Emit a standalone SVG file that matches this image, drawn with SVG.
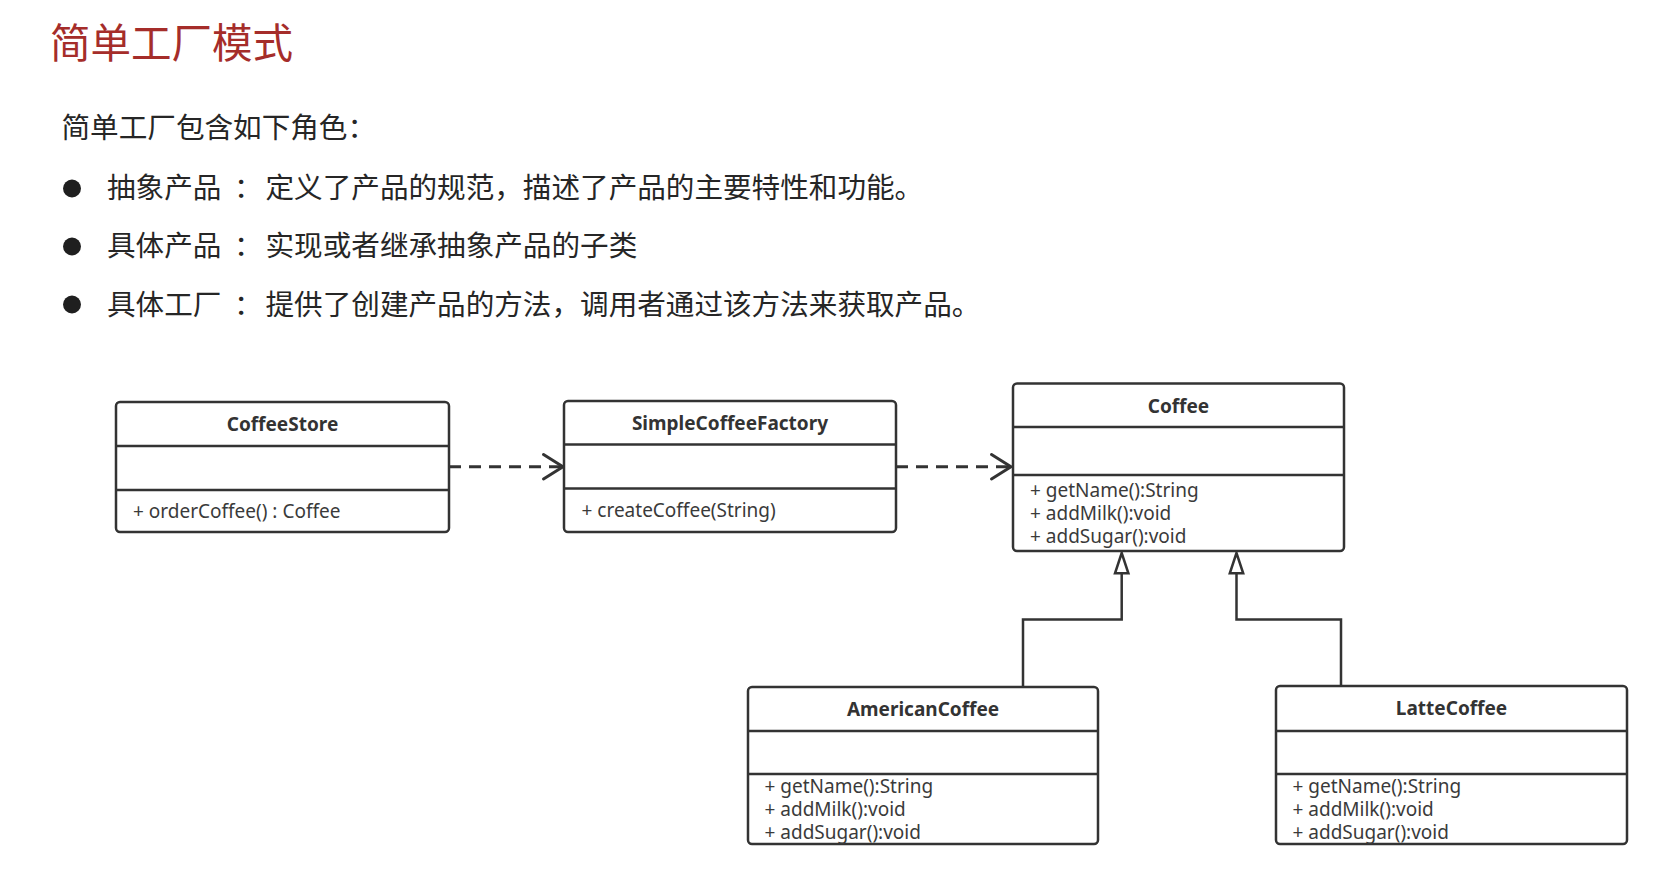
<svg xmlns="http://www.w3.org/2000/svg" width="1680" height="869" viewBox="0 0 1680 869">
  <style>
    .title { font-family: "Noto Sans CJK SC", "Noto Sans", sans-serif; font-size: 40.5px; fill: #A52D2A; }
    .cn { font-family: "Noto Sans CJK SC", "Noto Sans", sans-serif; font-size: 28.6px; fill: #262626; }
    .dot { fill: #1f1f1f; }
    .box { fill: #ffffff; stroke: #333333; stroke-width: 2.5; }
    .div { stroke: #333333; stroke-width: 2.5; }
    .cls { font-family: "Noto Sans", "Liberation Sans", sans-serif; font-size: 19px; font-weight: bold; fill: #333333; text-anchor: middle; }
    .mem { font-family: "Noto Sans", "Liberation Sans", sans-serif; font-size: 19px; fill: #3a3a3a; }
    .dep { fill: none; stroke: #333333; stroke-width: 3; stroke-dasharray: 12 8; }
    .gen { fill: none; stroke: #333333; stroke-width: 2.5; }
    .head { fill: none; stroke: #333333; stroke-width: 3; stroke-linecap: round; stroke-linejoin: round; }
    .tri { fill: #ffffff; stroke: #333333; stroke-width: 2.5; stroke-linejoin: miter; }
  </style>

  <g id="heading">
    <text class="title" x="50" y="57.5">简单工厂模式</text>
    <text class="cn" x="61.5" y="138">简单工厂包含如下角色：</text>
    <circle class="dot" cx="72" cy="188.5" r="9"/>
    <text class="cn" y="198"><tspan x="107">抽象产品</tspan><tspan x="234">：</tspan><tspan x="265.5">定义了产品的规范，描述了产品的主要特性和功能。</tspan></text>
    <circle class="dot" cx="72" cy="246.5" r="9"/>
    <text class="cn" y="256"><tspan x="107">具体产品</tspan><tspan x="234">：</tspan><tspan x="265.5">实现或者继承抽象产品的子类</tspan></text>
    <circle class="dot" cx="72" cy="304.5" r="9"/>
    <text class="cn" y="314.5"><tspan x="107">具体工厂</tspan><tspan x="234">：</tspan><tspan x="265.5">提供了创建产品的方法，调用者通过该方法来获取产品。</tspan></text>
  </g>

  <g id="connectors">
    <line class="dep" x1="449" y1="466.7" x2="561" y2="466.7"/>
    <polyline class="head" points="543.5,454.5 563,466.7 543.5,479"/>
    <line class="dep" x1="896" y1="466.7" x2="1009" y2="466.7"/>
    <polyline class="head" points="991.5,454.5 1011,466.7 991.5,479"/>
    <polyline class="gen" points="1023,687 1023,619.5 1121.7,619.5 1121.7,573"/>
    <polygon class="tri" points="1121.7,553 1115,573.3 1128.4,573.3"/>
    <polyline class="gen" points="1341,686 1341,619.5 1236.5,619.5 1236.5,573"/>
    <polygon class="tri" points="1236.5,553 1229.8,573.3 1243.2,573.3"/>
  </g>

  <g id="CoffeeStore">
    <rect class="box" x="116" y="402" width="333" height="130" rx="4"/>
    <line class="div" x1="116" y1="446" x2="449" y2="446"/>
    <line class="div" x1="116" y1="490" x2="449" y2="490"/>
    <text class="cls" x="282.5" y="431">CoffeeStore</text>
    <text class="mem" x="133" y="518">+ orderCoffee() : Coffee</text>
  </g>

  <g id="SimpleCoffeeFactory">
    <rect class="box" x="564" y="401" width="332" height="131" rx="4"/>
    <line class="div" x1="564" y1="444.5" x2="896" y2="444.5"/>
    <line class="div" x1="564" y1="488.5" x2="896" y2="488.5"/>
    <text class="cls" x="730" y="430">SimpleCoffeeFactory</text>
    <text class="mem" x="581.5" y="517">+ createCoffee(String)</text>
  </g>

  <g id="Coffee">
    <rect class="box" x="1013" y="383.5" width="331" height="167.5" rx="4"/>
    <line class="div" x1="1013" y1="427" x2="1344" y2="427"/>
    <line class="div" x1="1013" y1="475" x2="1344" y2="475"/>
    <text class="cls" x="1178.5" y="413">Coffee</text>
    <text class="mem" x="1030" y="496.5">+ getName():String</text>
    <text class="mem" x="1030" y="519.5">+ addMilk():void</text>
    <text class="mem" x="1030" y="542.5">+ addSugar():void</text>
  </g>

  <g id="AmericanCoffee">
    <rect class="box" x="748" y="687" width="350" height="157" rx="4"/>
    <line class="div" x1="748" y1="731" x2="1098" y2="731"/>
    <line class="div" x1="748" y1="774" x2="1098" y2="774"/>
    <text class="cls" x="923" y="715.5">AmericanCoffee</text>
    <text class="mem" x="764.5" y="792.5">+ getName():String</text>
    <text class="mem" x="764.5" y="815.5">+ addMilk():void</text>
    <text class="mem" x="764.5" y="838.5">+ addSugar():void</text>
  </g>

  <g id="LatteCoffee">
    <rect class="box" x="1276" y="686" width="351" height="158" rx="4"/>
    <line class="div" x1="1276" y1="731" x2="1627" y2="731"/>
    <line class="div" x1="1276" y1="774" x2="1627" y2="774"/>
    <text class="cls" x="1451.5" y="714.5">LatteCoffee</text>
    <text class="mem" x="1292.5" y="792.5">+ getName():String</text>
    <text class="mem" x="1292.5" y="815.5">+ addMilk():void</text>
    <text class="mem" x="1292.5" y="838.5">+ addSugar():void</text>
  </g>
</svg>
